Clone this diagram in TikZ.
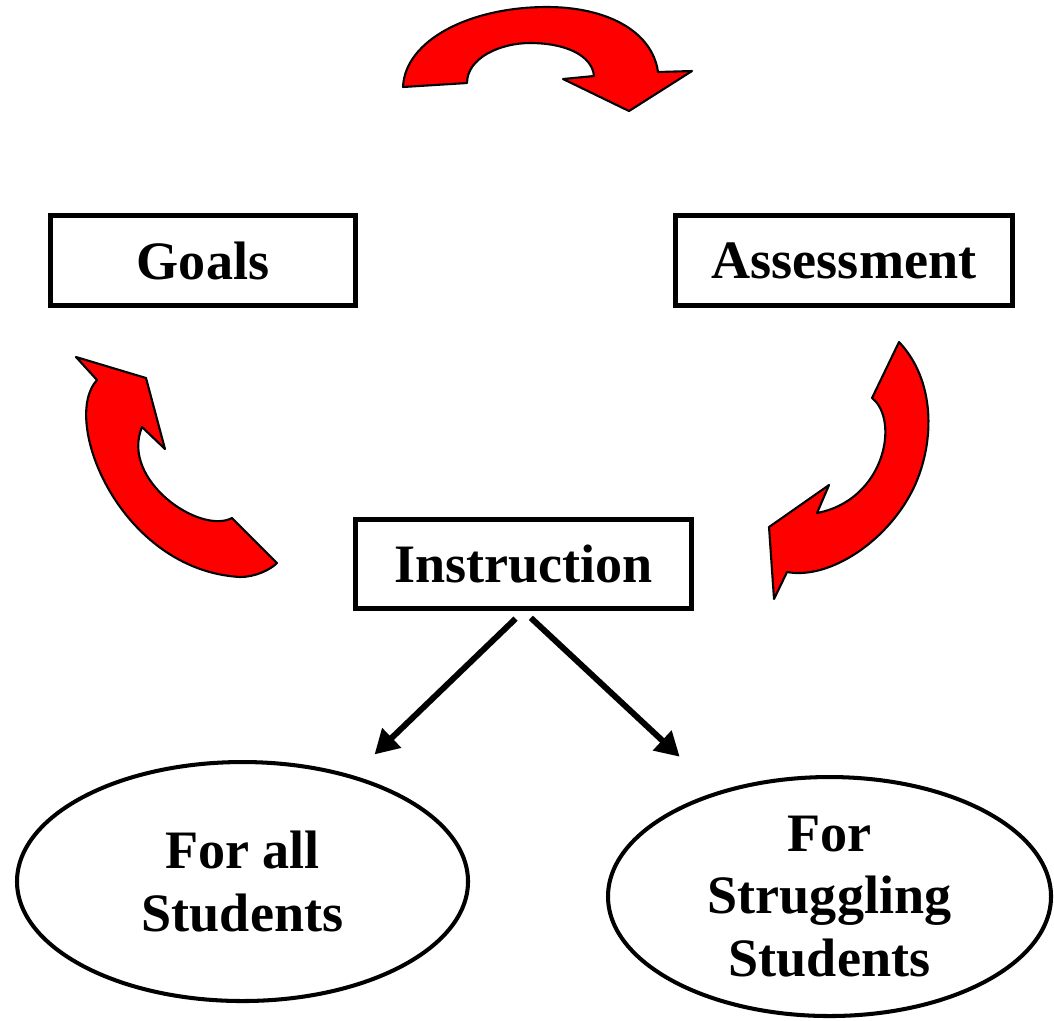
\documentclass[tikz,border=0pt]{standalone}
\usepackage{fontspec}
\setmainfont{Liberation Serif}
\usetikzlibrary{shapes.geometric,arrows.meta}

\begin{document}
\begin{tikzpicture}[x=0.1mm,y=-0.1mm,
  lbl/.style={font=\bfseries\fontsize{15.4}{17.8}\selectfont},
  box/.style={lbl,draw,line width=1.42pt,inner sep=0pt,minimum height=9mm},
  oval/.style={lbl,ellipse,draw,line width=1.15pt,inner sep=0pt,align=center,minimum height=23.9mm},
  turn/.style={fill=red,draw=black,line width=0.6pt,line join=round},
  conn/.style={line width=1.7pt,-{Triangle[length=2.4mm,width=2.6mm]}}]
\useasboundingbox (0,0) rectangle (1054,1020);
\node[box,minimum width=30.5mm] (goals) at (203,260.5) {Goals};
\node[box,minimum width=33.7mm] (assess) at (844,260.5) {Assessment};
\node[box,minimum width=33.6mm,minimum height=8.9mm] (instr) at (523.5,564) {Instruction};
\node[oval,minimum width=45.1mm] (all) at (242.5,881.5) {For all\\Students};
\node[oval,minimum width=44.3mm] (strug) at (829.5,896.5) {For\\Struggling\\Students};
\draw[conn,shorten <=1.1mm,shorten >=3mm] (instr.south) -- (all);
\draw[conn,shorten <=1mm,shorten >=5.1mm] (instr.south) -- (strug);
\draw[turn] (403,87) -- (467,83) .. controls (467,58) and (500,43) .. (530,43) .. controls (565,43) and (592,55) .. (594,76) -- (563,79) -- (629,111) -- (692,71) -- (658,72) .. controls (652,30) and (605,7) .. (547,7) .. controls (470,7) and (405,40) .. (403,87) -- cycle;
\draw[turn] (899,342) -- (872,398) .. controls (900,420) and (885,500) .. (817,513) -- (829,485) -- (769,527) -- (774,599) -- (787,572) .. controls (830,580) and (890,540) .. (915,485) .. controls (935,440) and (935,380) .. (899,342) -- cycle;
\draw[turn] (277,563) -- (232,518) .. controls (200,535) and (120,480) .. (142,427) -- (165,449) -- (146,378) -- (76,357) -- (97,380) .. controls (60,420) and (120,570) .. (240,577) .. controls (255,577) and (270,570) .. (277,563) -- cycle;
\end{tikzpicture}
\end{document}
